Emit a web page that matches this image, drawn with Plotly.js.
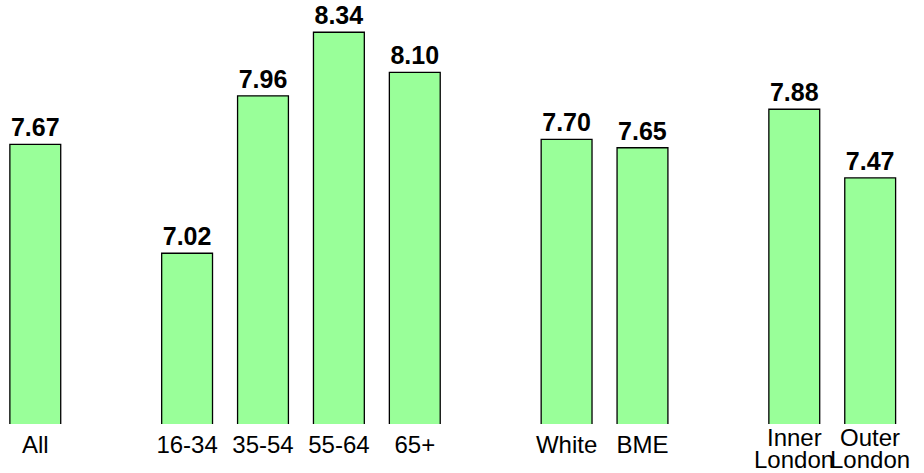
<!DOCTYPE html>
<html>
<head>
<meta charset="utf-8">
<script src="https://cdn.plot.ly/plotly-3.0.1.min.js"></script>
<style>html,body{margin:0;padding:0;background:#fff;}#chart{width:924px;height:473px;}</style>
</head>
<body>
<div id="chart"></div>
<script>
// Slots (gaps are empty categories separating the groups)
const categories = ['All', 'gap1', '16-34', '35-54', '55-64', '65+', 'gap2', 'White', 'BME', 'gap3', 'Inner London', 'Outer London'];
const values = [7.67, null, 7.02, 7.96, 8.34, 8.10, null, 7.70, 7.65, null, 7.88, 7.47];
const valueLabels = ['7.67', '', '7.02', '7.96', '8.34', '8.10', '', '7.70', '7.65', '', '7.88', '7.47'];
const tickLabels = ['All', '', '16-34', '35-54', '55-64', '65+', '', 'White', 'BME', '', '', ''];
const twoLineCategories = ['Inner London', 'Outer London'];
const twoLineFirst = ['Inner', 'Outer'];
const twoLineSecond = ['London', 'London'];

const FONT = 'Arial, "Liberation Sans", Helvetica, sans-serif';

const trace = {
  type: 'bar',
  x: categories,
  y: values,
  text: valueLabels,
  textposition: 'outside',
  cliponaxis: false,
  textfont: {family: FONT, size: 25, color: '#000', weight: 'bold'},
  marker: {color: '#99FF99', line: {color: '#000', width: 1.3}},
  hoverinfo: 'x+y'
};

const annotations = [];
twoLineCategories.forEach((c, i) => {
  annotations.push({x: c, xref: 'x', y: 0, yref: 'paper', yanchor: 'top', xanchor: 'center',
    text: twoLineFirst[i], showarrow: false, font: {family: FONT, size: 24, color: '#000'}, yshift: 2.5});
  annotations.push({x: c, xref: 'x', y: 0, yref: 'paper', yanchor: 'top', xanchor: 'center',
    text: twoLineSecond[i], showarrow: false, font: {family: FONT, size: 24, color: '#000'}, yshift: -20});
});

const layout = {
  width: 924, height: 473,
  margin: {l: 0, r: 0, t: 6, b: 49, pad: 0},
  paper_bgcolor: '#fff', plot_bgcolor: '#fff',
  showlegend: false,
  bargap: 0.33,
  font: {family: FONT, color: '#000'},
  xaxis: {
    type: 'category',
    categoryorder: 'array', categoryarray: categories,
    range: [-0.465, 11.709],
    tickvals: categories, ticktext: tickLabels,
    tickfont: {family: FONT, size: 24, color: '#000'},
    ticks: '', showline: false, showgrid: false, zeroline: false,
    ticklabelstandoff: 4,
    fixedrange: true
  },
  yaxis: {
    range: [6, 8.4967],
    showticklabels: false, ticks: '', showline: false, showgrid: false, zeroline: false,
    fixedrange: true
  },
  annotations: annotations
};

Plotly.newPlot('chart', [trace], layout, {displayModeBar: false, staticPlot: true});
</script>
</body>
</html>
